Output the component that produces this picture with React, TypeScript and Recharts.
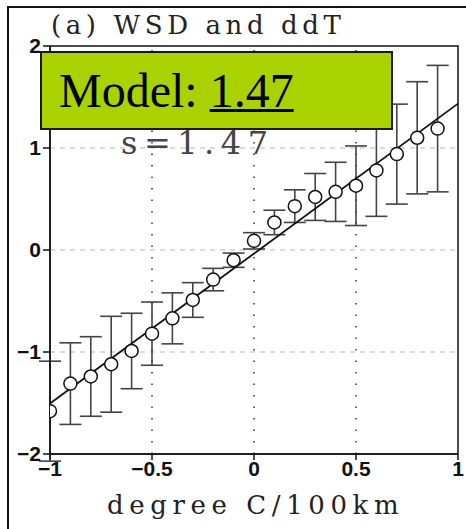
import {
  ComposedChart,
  Scatter,
  XAxis,
  YAxis,
  ReferenceLine,
  ReferenceArea,
} from "recharts";

// WSD binned by ddT (degree C / 100km)
const ddT = [-1, -0.9, -0.8, -0.7, -0.6, -0.5, -0.4, -0.3, -0.2, -0.1, 0, 0.1, 0.2, 0.3, 0.4, 0.5, 0.6, 0.7, 0.8, 0.9];
const wsdMean = [-1.58, -1.31, -1.24, -1.12, -0.99, -0.82, -0.67, -0.49, -0.29, -0.1, 0.09, 0.27, 0.43, 0.52, 0.57, 0.63, 0.78, 0.94, 1.1, 1.19];
const wsdErr = [0.49, 0.4, 0.39, 0.47, 0.37, 0.31, 0.25, 0.17, 0.11, 0.07, 0.08, 0.12, 0.16, 0.23, 0.29, 0.39, 0.45, 0.49, 0.55, 0.62];

// least-squares fit
const slope = 1.47;
const intercept = -0.035;
const fitX = [-1, 1];

const xTicks = [-1, -0.5, 0, 0.5, 1];
const yTicks = [-2, -1, 0, 1, 2];
const xGrid = [-0.5, 0, 0.5];
const yGrid = [-1, 0, 1];

const points = ddT.map((x, i) => ({ x, y: wsdMean[i], err: wsdErr[i] }));
const fitSegment = fitX.map((x) => ({ x, y: slope * x + intercept }));

const fmt = (v: number) => (v < 0 ? "\u2212" + Math.abs(v) : String(v));

const tickStyle = {
  fill: "#111",
  fontSize: 21,
  fontWeight: 700,
  fontFamily: "Liberation Sans, Arial, sans-serif",
};

const serif = "DejaVu Serif, Liberation Serif, serif";

const OpenCircle = (props: any) => {
  const { cx, cy } = props;
  if (cx == null || cy == null) return null;
  return <circle cx={cx} cy={cy} r={6.5} fill="#fff" stroke="#111" strokeWidth={1.5} />;
};

// vertical whisker with caps at both ends
const Whisker = (props: any) => {
  const { x1, y1, x2, y2 } = props;
  if (x1 == null || y1 == null) return null;
  const c = 11;
  return (
    <g stroke="#444" strokeWidth={1.6}>
      <line x1={x1} y1={y1} x2={x2} y2={y2} />
      <line x1={x1 - c} y1={y1} x2={x1 + c} y2={y1} />
      <line x1={x2 - c} y1={y2} x2={x2 + c} y2={y2} />
    </g>
  );
};

export default function App() {
  return (
    <div
      style={{
        position: "absolute",
        left: 0,
        top: 0,
        width: 466,
        height: 529,
        background: "#fff",
        overflow: "hidden",
      }}
    >
      {/* outer frame */}
      <div
        style={{
          position: "absolute",
          left: 7,
          top: 6,
          width: 500,
          height: 560,
          borderLeft: "2px solid #111",
          borderTop: "2px solid #111",
        }}
      />
      <div style={{ position: "absolute", left: 0, top: 0 }}>
        <ComposedChart
          width={466}
          height={529}
          data={points}
          margin={{ top: 46, right: 8, bottom: 45, left: 0 }}
        >
          <XAxis
            type="number"
            dataKey="x"
            domain={[-1, 1]}
            ticks={xTicks}
            allowDataOverflow
            tickFormatter={fmt}
            tick={tickStyle}
            tickSize={6}
            tickMargin={1}
            height={30}
            axisLine={{ stroke: "#111", strokeWidth: 1.5 }}
            tickLine={{ stroke: "#111", strokeWidth: 1.5 }}
          />
          <YAxis
            type="number"
            domain={[-2, 2]}
            ticks={yTicks}
            allowDataOverflow
            tickFormatter={fmt}
            tick={tickStyle}
            tickSize={7}
            tickMargin={2}
            width={50}
            axisLine={{ stroke: "#111", strokeWidth: 1.5 }}
            tickLine={{ stroke: "#111", strokeWidth: 1.5 }}
          />
          {yGrid.map((v) => (
            <ReferenceLine key={"h" + v} y={v} stroke="#b5b5b5" strokeDasharray="5 5" />
          ))}
          {xGrid.map((v) => (
            <ReferenceLine key={"v" + v} x={v} stroke="#333" strokeDasharray="1.5 10" strokeWidth={1.5} />
          ))}
          <ReferenceArea x1={-1} x2={1} y1={-2} y2={2} fill="none" stroke="#111" strokeWidth={1.5} />
          {points.map((p) => (
            <ReferenceLine
              key={"e" + p.x}
              segment={[
                { x: p.x, y: p.y - p.err },
                { x: p.x, y: p.y + p.err },
              ]}
              ifOverflow="hidden"
              shape={Whisker}
            />
          ))}
          <ReferenceLine segment={fitSegment} stroke="#111" strokeWidth={1.8} />
          <Scatter dataKey="y" shape={OpenCircle} isAnimationActive={false} />
        </ComposedChart>
      </div>

      {/* title */}
      <div
        style={{
          position: "absolute",
          left: 51,
          top: 10,
          fontFamily: serif,
          fontSize: 26,
          lineHeight: "30px",
          letterSpacing: 4.6,
          color: "#222",
          whiteSpace: "nowrap",
        }}
      >
        (a) WSD and ddT
      </div>

      {/* slope annotation */}
      <div
        style={{
          position: "absolute",
          left: 121,
          top: 124,
          fontFamily: serif,
          fontSize: 32,
          lineHeight: "38px",
          letterSpacing: 6.5,
          color: "#444",
          whiteSpace: "nowrap",
        }}
      >
        s=1.47
      </div>

      {/* highlight box */}
      <div
        style={{
          position: "absolute",
          left: 40,
          top: 51,
          width: 349,
          height: 75,
          background: "#aad200",
          border: "2px solid #1a1a1a",
          boxSizing: "content-box",
        }}
      >
        <div
          style={{
            position: "absolute",
            left: 17,
            top: 11,
            fontFamily: "Liberation Serif, Times New Roman, serif",
            fontSize: 48,
            lineHeight: "54px",
            color: "#000",
            whiteSpace: "nowrap",
          }}
        >
          Model: <span style={{ textDecoration: "underline", textDecorationThickness: 3 }}>1.47</span>
        </div>
      </div>

      {/* x axis title */}
      <div
        style={{
          position: "absolute",
          left: 107,
          top: 490,
          fontFamily: serif,
          fontSize: 26,
          lineHeight: "30px",
          letterSpacing: 5.6,
          color: "#222",
          whiteSpace: "nowrap",
        }}
      >
        degree C/100km
      </div>
    </div>
  );
}
